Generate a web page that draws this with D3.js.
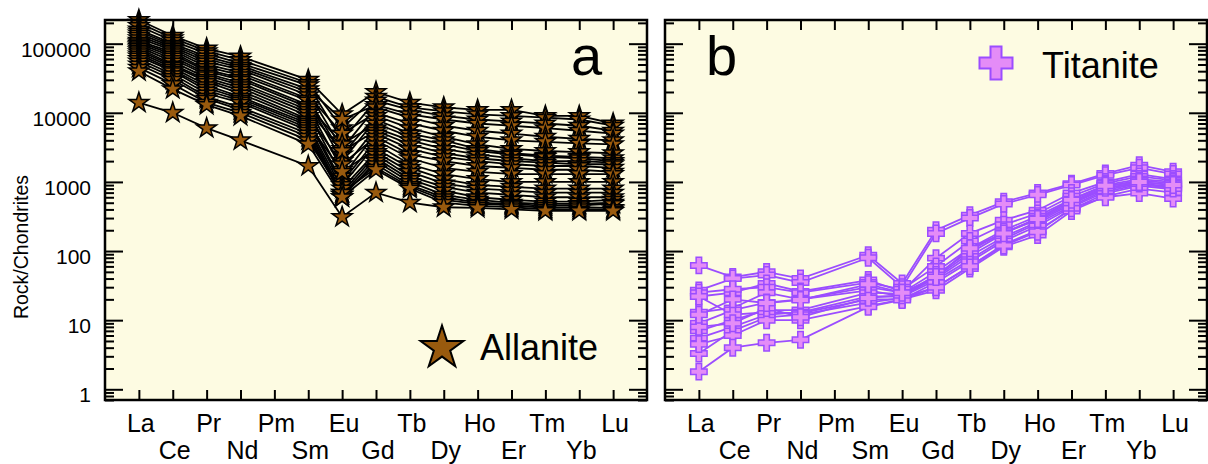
<!DOCTYPE html>
<html>
<head>
<meta charset="utf-8">
<script src="https://cdn.jsdelivr.net/npm/d3@7"></script>
<style>
body { margin: 0; background: #fff; }
text { font-family: "Liberation Sans", Arial, sans-serif; }
</style>
</head>
<body>
<div class="svg-container"></div>
<script>
/*** Data ***/

const elements = ['La', 'Ce', 'Pr', 'Nd', 'Pm', 'Sm', 'Eu', 'Gd', 'Tb', 'Dy', 'Ho', 'Er', 'Tm', 'Yb', 'Lu']
// Pm has no measurement, values are given for the other 14 elements
const measured = ['La', 'Ce', 'Pr', 'Nd', 'Sm', 'Eu', 'Gd', 'Tb', 'Dy', 'Ho', 'Er', 'Tm', 'Yb', 'Lu']

const yTickValues = [1, 10, 100, 1000, 10000, 100000]
const yTickLabels = ['1', '10', '100', '1000', '10000', '100000']

const allanite = [
    [220000, 130000, 85000, 65000, 30000, 9500, 20000, 14000, 12000, 11000, 11000, 9000, 9000, 7000],
    [200000, 120000, 78000, 58000, 27000, 6000, 17000, 12000, 10500, 9500, 9000, 8500, 8000, 6500],
    [180000, 110000, 72000, 52000, 25000, 4000, 15000, 11000, 9000, 8000, 7500, 7000, 6500, 5500],
    [160000, 100000, 65000, 48000, 22000, 8000, 13000, 9500, 8000, 7000, 6500, 6000, 5500, 5000],
    [150000, 95000, 60000, 45000, 20000, 3000, 12000, 8500, 6500, 5500, 5000, 4500, 4200, 4000],
    [140000, 90000, 55000, 42000, 18000, 5000, 10000, 7000, 5500, 4500, 4000, 3800, 3600, 3500],
    [130000, 85000, 50000, 38000, 16000, 2500, 9000, 6000, 4500, 3500, 3000, 2800, 2700, 2600],
    [120000, 80000, 46000, 35000, 15000, 2000, 8000, 5000, 4000, 3000, 2600, 2400, 2300, 2200],
    [110000, 75000, 42000, 32000, 13000, 3500, 7000, 4500, 3500, 2800, 2500, 2300, 2200, 2000],
    [105000, 70000, 40000, 30000, 12000, 1500, 6000, 4000, 3000, 2500, 2200, 2000, 2000, 1900],
    [100000, 65000, 37000, 27000, 11000, 2800, 5500, 3500, 2600, 2200, 2000, 1900, 1800, 1800],
    [95000, 60000, 35000, 25000, 10000, 1200, 5000, 3000, 2300, 2000, 1800, 1700, 1700, 1600],
    [90000, 55000, 32000, 23000, 9000, 1800, 4500, 2500, 2000, 1700, 1600, 1500, 1500, 1400],
    [85000, 50000, 30000, 21000, 8000, 1000, 4000, 2200, 1600, 1400, 1300, 1300, 1300, 1300],
    [80000, 48000, 28000, 19000, 7500, 900, 3500, 1800, 1300, 1100, 1000, 1000, 1000, 1000],
    [75000, 45000, 25000, 17000, 7000, 1400, 3000, 1600, 1100, 900, 850, 800, 800, 800],
    [70000, 42000, 23000, 16000, 6500, 800, 2700, 1400, 950, 800, 750, 700, 700, 700],
    [65000, 40000, 21000, 15000, 6000, 700, 2500, 1200, 850, 700, 650, 600, 600, 600],
    [60000, 36000, 19000, 14000, 5500, 650, 2200, 1100, 750, 600, 550, 520, 520, 550],
    [55000, 33000, 17000, 12000, 5000, 600, 2000, 1000, 650, 550, 500, 480, 480, 500],
    [50000, 30000, 16000, 11000, 4500, 650, 1800, 900, 600, 500, 480, 450, 460, 480],
    [45000, 26000, 14000, 10000, 4000, 700, 1600, 850, 550, 480, 460, 420, 430, 420],
    [40000, 22000, 13000, 9000, 3500, 600, 1500, 800, 500, 450, 430, 400, 400, 400],
    [14000, 10000, 6000, 4000, 1700, 310, 700, 500, 430, 420, 400, 380, 380, 380]
]

const titanite = [
    [62, 42, 50, 40, 87, 34, 200, 330, 515, 690, 940, 1320, 1750, 1400],
    [27, 40, 45, 35, 80, 30, 180, 300, 480, 650, 900, 1250, 1600, 1300],
    [22, 25, 34, 26, 38, 26, 79, 180, 280, 390, 690, 1000, 1300, 1100],
    [25, 28, 30, 25, 35, 28, 60, 140, 240, 350, 620, 950, 1200, 1050],
    [13, 15, 25, 20, 30, 25, 50, 110, 200, 320, 560, 900, 1100, 1000],
    [9, 14, 18, 20, 27, 22, 42, 93, 180, 300, 520, 850, 1050, 950],
    [7, 10, 14, 14, 25, 24, 40, 85, 160, 265, 480, 800, 1000, 900],
    [5.5, 8, 12, 13, 22, 22, 38, 75, 150, 250, 450, 760, 950, 850],
    [22, 12, 13, 12.6, 20, 20, 35, 70, 140, 230, 430, 720, 920, 820],
    [3.3, 7, 11, 12, 18, 21, 30, 60, 125, 200, 400, 680, 880, 780],
    [4.5, 6, 10, 10, 16, 20, 27, 56, 115, 170, 380, 620, 800, 700],
    [1.8, 4, 4.7, 5.2, 15.6, 19.6, 30, 60, 120, 190, 415, 600, 690, 575],
    [8, 9, 15, 11, 21, 23, 45, 100, 190, 280, 500, 820, 950, 800],
    [12, 20, 17.7, 19.6, 33, 25, 42, 110, 180, 290, 550, 880, 1000, 900]
]

/*** Layout ***/

const svgWidth = 1208
const svgHeight = 464
const plotTop = 20
const plotBottom = 400
const bg = '#fdfbe2'

const panels = [
    {left: 105, right: 647, data: allanite, letter: 'a', letterX: 571, yLabels: true,
     line: '#000', fill: '#995a0e', stroke: '#000', symbol: d3.symbolStar, size: 124,
     legend: {text: 'Allanite', x: 442, y: 348, size: 568, tx: 480, ty: 360}},
    {left: 665, right: 1207, data: titanite, letter: 'b', letterX: 706, yLabels: false,
     line: '#9b4dff', fill: '#e48cf7', stroke: '#9b4dff', symbol: d3.symbolCross, size: 150,
     legend: {text: 'Titanite', x: 996, y: 63, size: 605, tx: 1042, ty: 78}}
]

let svg = d3.select('.svg-container')
    .append('svg')
    .attr('width', svgWidth)
    .attr('height', svgHeight)

let yScale = d3.scaleLog()
    .domain([0.7, 220000])
    .range([plotBottom, plotTop])

// minor ticks 2..9 in every decade inside the domain
let minorTicks = []
for (let dec = 0.1; dec <= 100000; dec *= 10) {
    for (let m = 2; m <= 9; m++) {
        let v = Math.round(dec * m * 1000) / 1000
        if (v >= 0.7 && v <= 220000) minorTicks.push(v)
    }
}

/* y axis title */
svg.append('text')
    .attr('transform', 'translate(28, 247) rotate(-90)')
    .style('text-anchor', 'middle')
    .style('font-size', '19.5px')
    .text('Rock/Chondrites')

panels.forEach((p) => {
    let xScale = d3.scalePoint()
        .domain(elements)
        .range([p.left, p.right])
        .padding(1)

    let g = svg.append('g')

    g.append('rect')
        .attr('x', p.left)
        .attr('y', plotTop)
        .attr('width', p.right - p.left)
        .attr('height', plotBottom - plotTop)
        .attr('fill', bg)

    let clip = 'clip-' + p.letter
    svg.append('clipPath').attr('id', clip)
        .append('rect')
        .attr('x', p.left - 15).attr('y', 0)
        .attr('width', p.right - p.left + 30).attr('height', plotBottom)

    /* ticks, all pointing into the frame */
    const tickAxis = (axis, tr) => {
        let a = g.append('g').attr('transform', tr).call(axis)
        a.select('.domain').remove()
        a.selectAll('line').attr('stroke', '#000').attr('stroke-width', 2)
        return a
    }
    tickAxis(d3.axisBottom(xScale).tickSize(-10).tickFormat(''), `translate(0, ${plotBottom})`)
    tickAxis(d3.axisTop(xScale).tickSize(-10).tickFormat(''), `translate(0, ${plotTop})`)
    tickAxis(d3.axisLeft(yScale).tickValues(yTickValues).tickSize(-18).tickFormat(''), `translate(${p.left}, 0)`)
    tickAxis(d3.axisLeft(yScale).tickValues(minorTicks).tickSize(-9).tickFormat(''), `translate(${p.left}, 0)`)
    tickAxis(d3.axisRight(yScale).tickValues(yTickValues).tickSize(-18).tickFormat(''), `translate(${p.right}, 0)`)
    tickAxis(d3.axisRight(yScale).tickValues(minorTicks).tickSize(-9).tickFormat(''), `translate(${p.right}, 0)`)

    /* lines and markers */
    let line = d3.line()
        .x((d) => xScale(d.el))
        .y((d) => yScale(d.v))

    let series = p.data.map((row) => row.map((v, i) => ({el: measured[i], v: v})))

    g.append('g').attr('clip-path', `url(#${clip})`)
        .selectAll('path')
        .data(series)
        .enter()
        .append('path')
        .attr('d', line)
        .attr('fill', 'none')
        .attr('stroke', p.line)
        .attr('stroke-width', 1.8)

    let sym = d3.symbol().type(p.symbol).size(p.size)
    g.append('g')
        .selectAll('path')
        .data(series.flat())
        .enter()
        .append('path')
        .attr('d', sym)
        .attr('transform', (d) => `translate(${xScale(d.el)}, ${yScale(d.v)})`)
        .attr('fill', p.fill)
        .attr('stroke', p.stroke)
        .attr('stroke-width', 1.5)
        .attr('stroke-linejoin', 'miter')

    /* frame */
    g.append('rect')
        .attr('x', p.left)
        .attr('y', plotTop)
        .attr('width', p.right - p.left)
        .attr('height', plotBottom - plotTop)
        .attr('fill', 'none')
        .attr('stroke', '#000')
        .attr('stroke-width', 2.5)

    /* x labels on two rows */
    g.selectAll('.xl')
        .data(elements)
        .enter()
        .append('text')
        .attr('x', (d) => xScale(d) + 2)
        .attr('y', (d, i) => i % 2 === 0 ? 432 : 459)
        .style('text-anchor', 'middle')
        .style('font-size', '25px')
        .text((d) => d)

    if (p.yLabels) {
        g.selectAll('.yl')
            .data(yTickValues)
            .enter()
            .append('text')
            .attr('x', p.left - 14)
            .attr('y', (d) => yScale(d) + 13)
            .style('text-anchor', 'end')
            .style('font-size', '21px')
            .text((d, i) => yTickLabels[i])
    }

    /* panel letter */
    g.append('text')
        .attr('x', p.letterX)
        .attr('y', 75)
        .style('font-size', '56px')
        .text(p.letter)

    /* legend */
    g.append('path')
        .attr('d', d3.symbol().type(p.symbol).size(p.legend.size))
        .attr('transform', `translate(${p.legend.x}, ${p.legend.y})`)
        .attr('fill', p.fill)
        .attr('stroke', p.stroke)
        .attr('stroke-width', 2)
    g.append('text')
        .attr('x', p.legend.tx)
        .attr('y', p.legend.ty)
        .style('font-size', '36px')
        .text(p.legend.text)
})
</script>
</body>
</html>
